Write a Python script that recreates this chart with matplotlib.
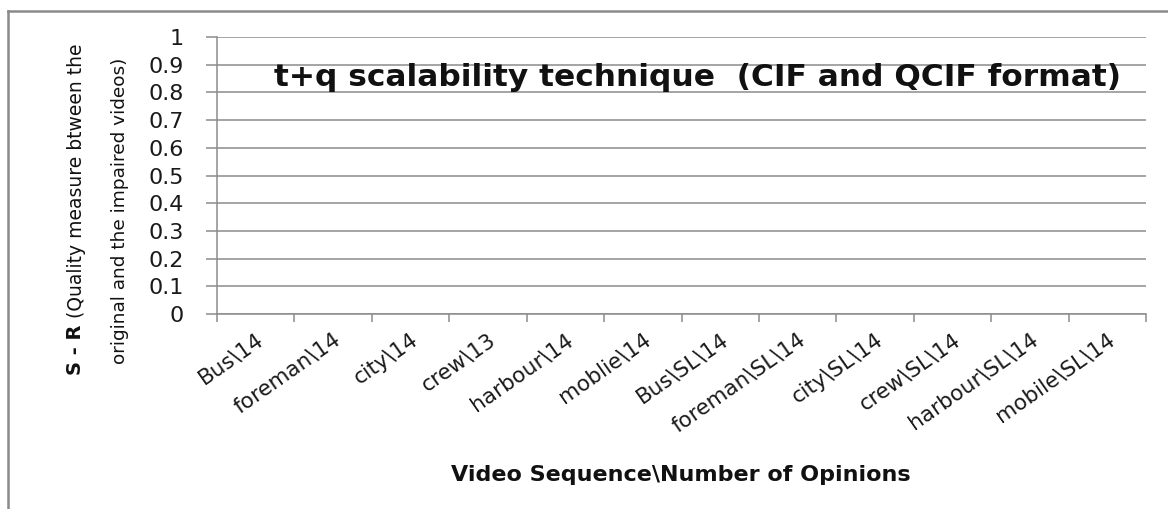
import matplotlib
matplotlib.use('Agg')
import matplotlib.pyplot as plt
from matplotlib.lines import Line2D
import numpy as np

# categories on the x axis (video sequence \ number of opinions)
categories = ['Bus\\14', 'foreman\\14', 'city\\14', 'crew\\13', 'harbour\\14', 'moblie\\14',
              'Bus\\SL\\14', 'foreman\\SL\\14', 'city\\SL\\14', 'crew\\SL\\14',
              'harbour\\SL\\14', 'mobile\\SL\\14']
# the chart carries no plotted values (empty series)
values = [0, 0, 0, 0, 0, 0, 0, 0, 0, 0, 0, 0]
y_ticks = [0, 0.1, 0.2, 0.3, 0.4, 0.5, 0.6, 0.7, 0.8, 0.9, 1]
y_tick_labels = ['0', '0.1', '0.2', '0.3', '0.4', '0.5', '0.6', '0.7', '0.8', '0.9', '1']

title = 't+q scalability technique  (CIF and QCIF format)'
x_label = 'Video Sequence\\Number of Opinions'
y_label_bold = 'S - R'
y_label_rest = ' (Quality measure btween the'
y_label_line2 = 'original and the impaired videos)'

W, H = 1168, 509
grey = '#8c8c8c'
plt.rcParams['font.family'] = ['DejaVu Sans']

fig = plt.figure(figsize=(W / 100, H / 100), dpi=100)
ax = fig.add_axes([217 / W, 1 - 314 / H, (1146 - 217) / W, (314 - 37) / H])

x = np.arange(len(categories))
ax.bar(x, values, width=0.6, color='#4f81bd', linewidth=0)

ax.set_xlim(-0.5, len(categories) - 0.5)
ax.set_ylim(0, 1)

ax.set_yticks(y_ticks)
ax.set_yticklabels(y_tick_labels, fontsize=16, color='#1a1a1a')
ax.yaxis.grid(True, color=grey, linewidth=1.1)
ax.set_axisbelow(True)
ax.tick_params(axis='y', length=8, width=1.1, color=grey, pad=16, direction='out')

ax.set_xticks(x)
ax.set_xticklabels(categories, rotation=35, ha='right', va='top',
                   rotation_mode='anchor', fontsize=15.5, color='#1a1a1a')
ax.tick_params(axis='x', which='major', length=0, pad=11)
ax.set_xticks(np.arange(-0.5, len(categories)), minor=True)
ax.tick_params(axis='x', which='minor', length=6, width=1.1, color=grey, direction='out')

for side in ['top', 'right']:
    ax.spines[side].set_visible(False)
ax.spines['left'].set_color(grey)
ax.spines['bottom'].set_color(grey)
ax.spines['left'].set_linewidth(1.1)
ax.spines['bottom'].set_linewidth(1.1)

fig.text(697 / W, 1 - 78 / H, title, ha='center', va='center',
         fontsize=22.5, fontweight='bold', color='#111111')
fig.text(681 / W, 1 - 475 / H, x_label, ha='center', va='center',
         fontsize=16, fontweight='bold', color='#111111')

# two-line y label, first part bold
t1 = fig.text(75 / W, 1 - 375 / H, y_label_bold, rotation=90, ha='center', va='bottom',
              fontsize=14, fontweight='bold', color='#111111')
fig.canvas.draw()
bb = t1.get_window_extent()
fig.text(77 / W, bb.y1 / H, y_label_rest, rotation=90, ha='center', va='bottom',
         fontsize=13.5, color='#111111')
fig.text(120 / W, 1 - 211 / H, y_label_line2, rotation=90, ha='center', va='center',
         fontsize=13.3, color='#111111')

# outer chart frame (left and top edges visible)
fig.add_artist(Line2D([8 / W, 8 / W], [0, 1 - 11 / H], color='#8a8a8a', linewidth=1.8,
                      transform=fig.transFigure))
fig.add_artist(Line2D([8 / W, 1], [1 - 11 / H, 1 - 11 / H], color='#8a8a8a', linewidth=1.8,
                      transform=fig.transFigure))

fig.savefig('out.png', dpi=100)
